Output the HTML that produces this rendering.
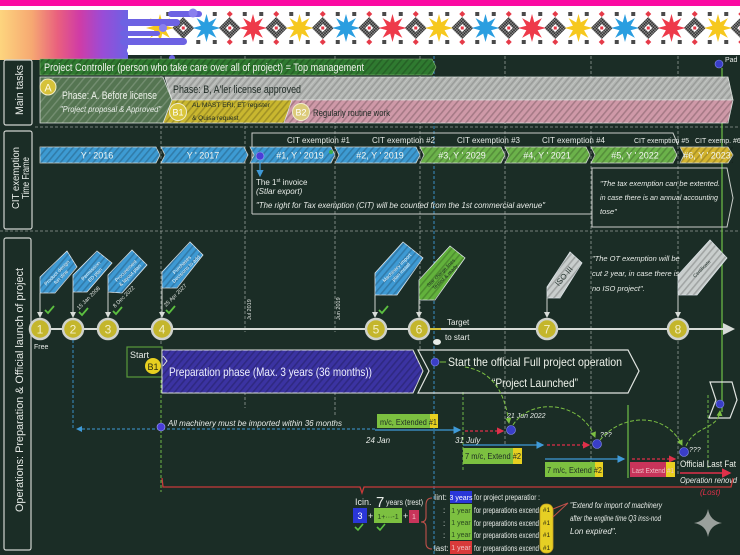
<!DOCTYPE html>
<html><head><meta charset="utf-8"><style>
html,body{margin:0;padding:0;background:#1b2d26;}
svg{display:block;}
text{font-family:"Liberation Sans",sans-serif;}
</style></head><body>
<svg width="740" height="555" viewBox="0 0 740 555" xmlns="http://www.w3.org/2000/svg" xmlns:xlink="http://www.w3.org/1999/xlink">
<defs>
<linearGradient id="hg" x1="0" x2="1" y1="0" y2="0">
<stop offset="0" stop-color="#fdd57e"/>
<stop offset="0.25" stop-color="#f6a872"/>
<stop offset="0.45" stop-color="#e9607e"/>
<stop offset="0.62" stop-color="#d03ca6"/>
<stop offset="0.8" stop-color="#9a4cd6"/>
<stop offset="1" stop-color="#6b62e4"/>
</linearGradient>
<pattern id="h" width="5" height="5" patternUnits="userSpaceOnUse" patternTransform="rotate(40)">
<rect x="0" y="0" width="1.6" height="5" fill="#000" fill-opacity="0.2"/>
</pattern>
<pattern id="hl" width="5" height="5" patternUnits="userSpaceOnUse" patternTransform="rotate(40)">
<rect x="0" y="0" width="1.4" height="5" fill="#000" fill-opacity="0.14"/>
<rect x="2.5" y="0" width="1" height="5" fill="#fff" fill-opacity="0.2"/>
</pattern>
<pattern id="hw" width="6" height="6" patternUnits="userSpaceOnUse" patternTransform="rotate(40)">
<rect x="0" y="0" width="1.4" height="6" fill="#fff" fill-opacity="0.18"/>
</pattern>
<pattern id="ck" width="3" height="3" patternUnits="userSpaceOnUse">
<rect width="3" height="3" fill="#8a8a8a"/>
<rect width="1.5" height="1.5" fill="#2e2e2e"/>
<rect x="1.5" y="1.5" width="1.5" height="1.5" fill="#2e2e2e"/>
</pattern>
<polygon id="st" points="14,0 5.6,2.3 9.9,9.9 2.3,5.6 0,14 -2.3,5.6 -9.9,9.9 -5.6,2.3 -14,0 -5.6,-2.3 -9.9,-9.9 -2.3,-5.6 0,-14 2.3,-5.6 9.9,-9.9 5.6,-2.3"/>
<g id="mo">
<path d="M0,-11 L11,0 L0,11 L-11,0Z" fill="url(#ck)"/>
<path d="M0,-4 L4,0 L0,4 L-4,0Z" fill="#fff"/>
<rect x="-1.5" y="-1.5" width="3" height="3" fill="#e53a48"/>
<path d="M0,-17 L3,-14 L0,-11 L-3,-14Z" fill="#e53a48"/>
<path d="M0,11 L3,14 L0,17 L-3,14Z" fill="#e53a48"/>
<rect x="-17" y="-16" width="4" height="4" fill="#4a4a4a"/>
<rect x="13" y="-16" width="4" height="4" fill="#4a4a4a"/>
<rect x="-17" y="12" width="4" height="4" fill="#4a4a4a"/>
<rect x="13" y="12" width="4" height="4" fill="#4a4a4a"/>
</g>
<marker id="aw" markerWidth="6" markerHeight="6" refX="5" refY="3" orient="auto"><path d="M0,0 L6,3 L0,6Z" fill="#d8dcd8"/></marker>
<marker id="ab" markerWidth="6" markerHeight="6" refX="5" refY="3" orient="auto"><path d="M0,0 L6,3 L0,6Z" fill="#3f9ad8"/></marker>
<marker id="ar" markerWidth="6" markerHeight="6" refX="5" refY="3" orient="auto"><path d="M0,0 L6,3 L0,6Z" fill="#e0304a"/></marker>
<marker id="ag" markerWidth="6" markerHeight="6" refX="5" refY="3" orient="auto"><path d="M0,0 L6,3 L0,6Z" fill="#7cc043"/></marker>
</defs>

<rect x="0" y="0" width="740" height="555" fill="#1b2d26"/>

<!-- header -->
<rect x="0" y="0" width="740" height="6" fill="#fb0aa2"/>
<rect x="0" y="6" width="740" height="49" fill="#ffffff"/>
<g>
<use xlink:href="#mo" transform="translate(183.25,28)"/>
<use xlink:href="#mo" transform="translate(229.75,28)"/>
<use xlink:href="#mo" transform="translate(276.25,28)"/>
<use xlink:href="#mo" transform="translate(322.75,28)"/>
<use xlink:href="#mo" transform="translate(369.25,28)"/>
<use xlink:href="#mo" transform="translate(415.75,28)"/>
<use xlink:href="#mo" transform="translate(462.25,28)"/>
<use xlink:href="#mo" transform="translate(508.75,28)"/>
<use xlink:href="#mo" transform="translate(555.25,28)"/>
<use xlink:href="#mo" transform="translate(601.75,28)"/>
<use xlink:href="#mo" transform="translate(648.25,28)"/>
<use xlink:href="#mo" transform="translate(694.75,28)"/>
<use xlink:href="#mo" transform="translate(741.25,28)"/>
<use xlink:href="#st" transform="translate(160,28)" fill="#f6c81e"/>
<use xlink:href="#st" transform="translate(206.5,28)" fill="#2a9ee0"/>
<use xlink:href="#st" transform="translate(253,28)" fill="#ee3a4a"/>
<use xlink:href="#st" transform="translate(299.5,28)" fill="#f6c81e"/>
<use xlink:href="#st" transform="translate(346,28)" fill="#2a9ee0"/>
<use xlink:href="#st" transform="translate(392.5,28)" fill="#ee3a4a"/>
<use xlink:href="#st" transform="translate(439,28)" fill="#f6c81e"/>
<use xlink:href="#st" transform="translate(485.5,28)" fill="#2a9ee0"/>
<use xlink:href="#st" transform="translate(532,28)" fill="#ee3a4a"/>
<use xlink:href="#st" transform="translate(578.5,28)" fill="#f6c81e"/>
<use xlink:href="#st" transform="translate(625,28)" fill="#2a9ee0"/>
<use xlink:href="#st" transform="translate(671.5,28)" fill="#ee3a4a"/>
<use xlink:href="#st" transform="translate(718,28)" fill="#f6c81e"/>
</g>
<rect x="0" y="10" width="128" height="50" fill="url(#hg)"/>
<rect x="168" y="11" width="34" height="6" rx="3" fill="#6d62e3"/>
<circle cx="193" cy="13" r="4.5" fill="#8a80ee"/>
<rect x="120" y="19" width="60" height="7" rx="3.5" fill="#6d62e3"/>
<circle cx="163" cy="28" r="4" fill="#8a80ee"/>
<rect x="120" y="31" width="40" height="5" rx="2.5" fill="#6d62e3"/>
<rect x="120" y="38" width="67" height="7" rx="3.5" fill="#6d62e3"/>
<rect x="127" y="47" width="48" height="7" rx="3.5" fill="#ffffff"/>
<circle cx="172" cy="58" r="3" fill="#6d62e3"/>

<!-- separators -->
<g stroke="#c8ccc8" stroke-opacity="0.7" stroke-width="0.8" stroke-dasharray="3 2" fill="none">
<line x1="35" y1="127" x2="740" y2="127"/>
<line x1="0" y1="231" x2="740" y2="231"/>
<line x1="161" y1="56" x2="161" y2="345"/>
<line x1="245" y1="56" x2="245" y2="332"/>
<line x1="335" y1="56" x2="335" y2="332"/>
<line x1="420" y1="56" x2="420" y2="350"/>
<line x1="505" y1="56" x2="505" y2="445"/>
<line x1="591" y1="56" x2="591" y2="470"/>
<line x1="678" y1="56" x2="678" y2="476"/>
<line x1="245" y1="392" x2="245" y2="408"/>
<line x1="335" y1="392" x2="335" y2="415"/>
</g>
<line x1="434" y1="56" x2="434" y2="555" stroke="#3f9ad8" stroke-width="0.9" stroke-dasharray="3 2"/>
<g stroke="#6fb848" stroke-width="1" stroke-dasharray="3 2" fill="none">
<line x1="161" y1="380" x2="161" y2="492"/>
<line x1="463" y1="392" x2="463" y2="470"/>
<line x1="708" y1="395" x2="708" y2="470"/>
</g>
<line x1="722" y1="68" x2="722" y2="412" stroke="#6fc048" stroke-width="1.2"/>
<line x1="628" y1="405" x2="628" y2="478" stroke="#6fc048" stroke-width="1.2"/>

<!-- left label boxes -->
<g fill="none" stroke="#d0d4d0" stroke-width="1.2">
<rect x="4" y="60" width="28" height="65" rx="2"/>
<rect x="4" y="131" width="28" height="98" rx="2"/>
<rect x="4" y="238" width="27" height="312" rx="2"/>
</g>
<g fill="#e8ece8">
<text transform="translate(23,90) rotate(-90)" text-anchor="middle" font-size="11" textLength="50" lengthAdjust="spacingAndGlyphs">Main tasks</text>
<text transform="translate(19,178) rotate(-90)" text-anchor="middle" font-size="10" textLength="62" lengthAdjust="spacingAndGlyphs">CIT exemption</text>
<text transform="translate(29,178) rotate(-90)" text-anchor="middle" font-size="10" textLength="42" lengthAdjust="spacingAndGlyphs">Time Frame</text>
<text transform="translate(23,390) rotate(-90)" text-anchor="middle" font-size="11" textLength="244" lengthAdjust="spacingAndGlyphs">Operations: Preparation &amp; Official launch of project</text>
</g>

<!-- main tasks -->
<polygon points="40,59 432,59 436,67 432,75 40,75" fill="#2f7a30" stroke="#8fbf7c" stroke-width="0.6"/>
<polygon points="40,59 432,59 436,67 432,75 40,75" fill="url(#h)"/>
<text x="44" y="71" font-size="11" fill="#eef2ea" textLength="320" lengthAdjust="spacingAndGlyphs">Project Controller (person who take care over all of project) = Top management</text>

<polygon points="165,77 728,77 733,100 172,100" fill="#b2b5b2" stroke="#dfe2df" stroke-width="0.8"/>
<polygon points="165,77 728,77 733,100 172,100" fill="url(#hl)"/>
<polygon points="172,100 292,100 284,123 163,123" fill="#c9b72f" stroke="#dfe2df" stroke-width="0.8"/>
<polygon points="172,100 292,100 284,123 163,123" fill="url(#h)"/>
<polygon points="292,100 733,100 728,123 284,123" fill="#cf99a8" stroke="#dfe2df" stroke-width="0.8"/>
<polygon points="292,100 733,100 728,123 284,123" fill="url(#h)"/>
<polygon points="40,77 163,77 172,100 163,123 40,123" fill="#557552" stroke="#dfe2df" stroke-width="0.8"/>
<polygon points="40,77 163,77 172,100 163,123 40,123" fill="url(#hw)"/>
<circle cx="48" cy="87" r="8" fill="#d6c23a" stroke="#f0ecc8" stroke-width="1"/>
<text x="48" y="91.5" font-size="11" fill="#fffbe0" text-anchor="middle">A</text>
<text x="62" y="99" font-size="11" fill="#eef2ea" textLength="95" lengthAdjust="spacingAndGlyphs">Phase: A. Before license</text>
<text x="60" y="112" font-size="8.5" font-style="italic" fill="#e8ece8" textLength="101" lengthAdjust="spacingAndGlyphs">"Project proposal &amp; Approved"</text>
<text x="173" y="93" font-size="11" fill="#1e2a24" textLength="128" lengthAdjust="spacingAndGlyphs">Phase: B, A'ler license approved</text>
<circle cx="178" cy="112" r="8.5" fill="#d9c53a" stroke="#f0eccc" stroke-width="1"/>
<text x="178" y="115.5" font-size="9" fill="#fff" text-anchor="middle">B1</text>
<text x="192" y="107" font-size="6.5" fill="#1e2a24" textLength="78" lengthAdjust="spacingAndGlyphs">AL MAST ERI, ET register</text>
<text x="192" y="120" font-size="6.5" fill="#1e2a24">&amp; Quisa request</text>
<circle cx="301" cy="112" r="8.5" fill="#dccb7a" stroke="#f0eccc" stroke-width="1"/>
<text x="301" y="115.5" font-size="9" fill="#fff" text-anchor="middle">B2</text>
<text x="313" y="116" font-size="9" fill="#1e2a24" textLength="77" lengthAdjust="spacingAndGlyphs">Regularly routine work</text>

<circle cx="719" cy="64" r="4" fill="#3a3ec8" stroke="#8890f0" stroke-width="0.6"/>
<text x="725" y="62" font-size="7" fill="#e8ece8">Pad</text>

<!-- CIT timeframe -->
<polyline points="252,214 252,133 673,133 678,145" fill="none" stroke="#c8ccc8" stroke-width="1"/>
<line x1="252" y1="214" x2="592" y2="214" stroke="#c8ccc8" stroke-width="1"/>
<polygon points="592,168 727,168 733,198 727,227 592,227" fill="none" stroke="#c8ccc8" stroke-width="1"/>
<g stroke="#d8dcd8" stroke-width="0.8">
<polygon points="40,147 156,147 160,155 156,163 40,163" fill="#3d9bd3"/>
<polygon points="161,147 244,147 248,155 244,163 161,163 165,155" fill="#3d9bd3"/>
<polygon points="250,147 331,147 335,155 331,163 250,163 254,155" fill="#3d9bd3"/>
<polygon points="335,147 416,147 420,155 416,163 335,163 339,155" fill="#3d9bd3"/>
<polygon points="420,147 501,147 505,155 501,163 420,163 424,155" fill="#6bb24a"/>
<polygon points="505,147 586,147 590,155 586,163 505,163 509,155" fill="#6bb24a"/>
<polygon points="591,147 673,147 677,155 673,163 591,163 595,155" fill="#6bb24a"/>
<polygon points="680,147 728,147 733,155 728,163 680,163 684,155" fill="#d4b530"/>
</g>
<rect x="40" y="147" width="693" height="16" fill="url(#h)"/>
<g font-size="9" fill="#f2f5f2" text-anchor="middle">
<text x="97" y="158.5">Y ' 2016</text>
<text x="203" y="158.5">Y ' 2017</text>
<text x="300" y="158.5">#1, Y ' 2019</text>
<text x="380" y="158.5">#2, Y ' 2019</text>
<text x="462" y="158.5">#3, Y ' 2029</text>
<text x="547" y="158.5">#4, Y ' 2021</text>
<text x="635" y="158.5">#5, Y ' 2022</text>
<text x="707" y="158.5">#6, Y ' 2023</text>
</g>
<g font-size="8" fill="#e8ece8">
<text x="287" y="143">CIT exemption  #1</text>
<text x="372" y="143">CIT exemption  #2</text>
<text x="457" y="143">CIT exemption  #3</text>
<text x="542" y="143">CIT exemption  #4</text>
<text x="634" y="143" font-size="7">CIT exemption #5</text>
<text x="695" y="143" font-size="7">CIT exemp. #6</text>
</g>
<circle cx="260" cy="156" r="4" fill="#4a3ed8" stroke="#a0a8f0" stroke-width="0.6"/>
<circle cx="331" cy="152" r="2" fill="#3cb050"/>
<line x1="260" y1="161" x2="260" y2="176" stroke="#3f9ad8" stroke-width="1.2" marker-end="url(#ab)"/>
<text x="256" y="185" font-size="8" fill="#e8ece8">The 1<tspan font-size="5" dy="-3">st</tspan><tspan dy="3"> invoice</tspan></text>
<text x="256" y="194" font-size="8" font-style="italic" fill="#e8ece8">(Stlar export)</text>
<text x="256" y="208" font-size="8.5" font-style="italic" fill="#e8ece8" textLength="289" lengthAdjust="spacingAndGlyphs">"The right for Tax exemption (CIT) will be counted from the 1st commercial avenue"</text>
<g font-size="7.5" font-style="italic" fill="#e8ece8">
<text x="600" y="186" textLength="120" lengthAdjust="spacingAndGlyphs">"The tax exemption can be extented.</text>
<text x="600" y="200" textLength="118" lengthAdjust="spacingAndGlyphs">in case there is an annual accounting</text>
<text x="600" y="214">tose"</text>
</g>

<!-- operations timeline -->
<line x1="35" y1="329" x2="733" y2="329" stroke="#d8dcd8" stroke-width="2" marker-end="url(#aw)"/>
<g stroke="#dfe6ea" stroke-width="0.8">
<polygon points="40,293 40,277 67,251 77,267 55,293" fill="#3e9ad4"/>
<polygon points="73,292 73,275 97,251 112,263 87,292" fill="#3e9ad4"/>
<polygon points="108,292 108,275 132,250 147,265 122,293" fill="#3e9ad4"/>
<polygon points="162,288 162,272 190,242 203,255 177,288" fill="#3e9ad4"/>
<polygon points="375,295 375,273 403,242 423,258 397,295" fill="#3e9ad4"/>
<polygon points="419,300 419,280 450,246 465,258 435,300" fill="#62b23c"/>
<polygon points="547,298 547,287 570,252 582,263 560,298" fill="#c9cecd"/>
<polygon points="678,295 678,275 710,240 727,258 697,295" fill="#c9cecd"/>
</g>
<g fill="url(#h)">
<polygon points="40,293 40,277 67,251 77,267 55,293"/>
<polygon points="73,292 73,275 97,251 112,263 87,292"/>
<polygon points="108,292 108,275 132,250 147,265 122,293"/>
<polygon points="162,288 162,272 190,242 203,255 177,288"/>
<polygon points="375,295 375,273 403,242 423,258 397,295"/>
<polygon points="419,300 419,280 450,246 465,258 435,300"/>
<polygon points="547,298 547,287 570,252 582,263 560,298"/>
<polygon points="678,295 678,275 710,240 727,258 697,295"/>
</g>
<g font-size="5" fill="#f0f4f6" text-anchor="middle">
<text transform="translate(58,274) rotate(-45)">Product design<tspan x="0" dy="6">fun dine</tspan></text>
<text transform="translate(92,272) rotate(-45)">Permission<tspan x="0" dy="6">ED plan</tspan></text>
<text transform="translate(127,272) rotate(-45)">Procurement<tspan x="0" dy="6">&amp; layout plan</tspan></text>
<text transform="translate(183,266) rotate(-45)">Purchases<tspan x="0" dy="6">Decisions to add</tspan></text>
<text transform="translate(398,269) rotate(-45)">Machinery import<tspan x="0" dy="6">plan install</tspan></text>
<text transform="translate(442,274) rotate(-45)" fill="#1e2a24">Star charge lines<tspan x="0" dy="6">Tested &amp; ready</tspan></text>
<text transform="translate(566,278) rotate(-50)" font-size="8" fill="#2a3a34">ISO III</text>
<text transform="translate(703,270) rotate(-45)" fill="#2a3a34">Certificate</text>
</g>
<g stroke="#cfd3cf" stroke-width="1" marker-end="url(#aw)">
<line x1="40" y1="293" x2="40" y2="317"/>
<line x1="73" y1="292" x2="73" y2="317"/>
<line x1="108" y1="292" x2="108" y2="317"/>
<line x1="162" y1="288" x2="162" y2="317"/>
<line x1="375" y1="295" x2="375" y2="317"/>
<line x1="419" y1="300" x2="419" y2="317"/>
<line x1="547" y1="298" x2="547" y2="317"/>
<line x1="678" y1="295" x2="678" y2="317"/>
</g>
<g fill="none" stroke="#5cc040" stroke-width="1.8">
<path d="M45,310 l3,3 l6,-7"/>
<path d="M79,312 l3,3 l6,-7"/>
<path d="M113,311 l3,3 l6,-7"/>
<path d="M166,310 l3,3 l6,-7"/>
<path d="M379,310 l3,3 l6,-7"/>
</g>
<g font-size="5.5" fill="#e0e4e0">
<text transform="translate(79,310) rotate(-45)">15 Jan 2008</text>
<text transform="translate(115,308) rotate(-45)">8 Dec 2022</text>
<text transform="translate(166,307) rotate(-45)">25 Apr 2027</text>
<text transform="translate(251,320) rotate(-90)">Jul 2019</text>
<text transform="translate(340,320) rotate(-90)">Jun 2019</text>
</g>
<g fill="#c4b62c" stroke="#cfd2cc" stroke-width="2.5">
<circle cx="40" cy="329" r="10"/>
<circle cx="73" cy="329" r="10"/>
<circle cx="108" cy="329" r="10"/>
<circle cx="162" cy="329" r="10"/>
<circle cx="376" cy="329" r="10"/>
<circle cx="419" cy="329" r="10"/>
<circle cx="547" cy="329" r="10"/>
<circle cx="678" cy="329" r="10"/>
</g>
<g font-size="12" fill="#f4f0c8" text-anchor="middle">
<text x="40" y="333.5">1</text>
<text x="73" y="333.5">2</text>
<text x="108" y="333.5">3</text>
<text x="162" y="333.5">4</text>
<text x="376" y="333.5">5</text>
<text x="419" y="333.5">6</text>
<text x="547" y="333.5">7</text>
<text x="678" y="333.5">8</text>
</g>
<text x="34" y="349" font-size="7" fill="#e8ece8">Free</text>
<line x1="430" y1="329" x2="441" y2="329" stroke="#d4c23a" stroke-width="2"/>
<ellipse cx="437" cy="342" rx="4" ry="3" fill="#e8ece8"/>
<text x="447" y="325" font-size="8" fill="#e8ece8">Target</text>
<text x="445" y="340" font-size="8" fill="#e8ece8">to start</text>
<g font-size="7.5" font-style="italic" fill="#e8ece8">
<text x="592" y="261">"The OT exemption will be</text>
<text x="592" y="276">cut 2 year, in case there is</text>
<text x="592" y="291">no ISO project".</text>
</g>

<!-- preparation phase -->
<rect x="127" y="347" width="35" height="30" fill="none" stroke="#5a9a3a" stroke-width="1.2"/>
<text x="130" y="358" font-size="9" fill="#e8ece8">Start</text>
<polygon points="162,350 413,350 423,371 413,393 162,393" fill="#3b33a2" stroke="#e0e4e0" stroke-width="1"/>
<polygon points="162,350 413,350 423,371 413,393 162,393" fill="url(#h)"/>
<path d="M163,356 l4,5 l-4,5" fill="none" stroke="#e0e4e0" stroke-width="1"/>
<circle cx="153" cy="366" r="8" fill="#e8d020"/>
<text x="153" y="370" font-size="9" fill="#2a2a10" text-anchor="middle">B1</text>
<text x="169" y="376" font-size="12" fill="#eef0ff" textLength="203" lengthAdjust="spacingAndGlyphs">Preparation phase (Max. 3 years (36 months))</text>
<polygon points="418,350 628,350 639,371 628,393 418,393 429,371" fill="none" stroke="#e0e4e0" stroke-width="1.2"/>
<circle cx="435" cy="362" r="4" fill="#3a3ec8" stroke="#8890f0" stroke-width="0.6"/>
<line x1="440" y1="362" x2="446" y2="362" stroke="#7cc043" stroke-width="1"/>
<text x="448" y="366" font-size="12" fill="#eef2ea" textLength="174" lengthAdjust="spacingAndGlyphs">Start the official Full project operation</text>
<text x="535" y="387" font-size="12" fill="#eef2ea" text-anchor="middle" textLength="86" lengthAdjust="spacingAndGlyphs">“Project Launched”</text>
<polygon points="710,382 732,382 737,400 730,418 709,418 716,400" fill="none" stroke="#e0e4e0" stroke-width="1.2"/>
<circle cx="720" cy="404" r="4" fill="#3a3ec8" stroke="#8890f0" stroke-width="0.6"/>

<!-- machinery -->
<line x1="73" y1="340" x2="73" y2="429" stroke="#3f9ad8" stroke-width="0.9" stroke-dasharray="3 2"/>
<line x1="375" y1="429" x2="77" y2="429" stroke="#3f9ad8" stroke-width="1" stroke-dasharray="3 2" marker-end="url(#ab)"/>
<line x1="375" y1="430" x2="460" y2="430" stroke="#3f9ad8" stroke-width="1.3" marker-end="url(#ab)"/>
<circle cx="161" cy="427" r="4" fill="#4a3ed8" stroke="#a0a8f0" stroke-width="0.6"/>
<text x="168" y="426" font-size="8.5" font-style="italic" fill="#e8ece8" textLength="174" lengthAdjust="spacingAndGlyphs">All machinery must be imported within 36 months</text>
<rect x="377" y="414" width="54" height="14" fill="#7cc040"/>
<rect x="430" y="414" width="8" height="14" fill="#e8d020"/>
<text x="380" y="425" font-size="8.5" fill="#1e2a24" textLength="57" lengthAdjust="spacingAndGlyphs">m/c, Extended #1</text>
<g font-size="8" font-style="italic" fill="#e8ece8">
<text x="366" y="443">24 Jan</text>
<text x="455" y="443">31 July</text>
<text x="507" y="418" font-size="7">21 Jun 2022</text>
<text x="600" y="437" font-size="7">???</text>
<text x="689" y="452" font-size="7">???</text>
</g>
<line x1="465" y1="431" x2="503" y2="431" stroke="#e0304a" stroke-width="1.2" stroke-dasharray="3 2" marker-end="url(#ar)"/>
<circle cx="511" cy="430" r="4.5" fill="#3a3ec8" stroke="#8890f0" stroke-width="0.6"/>

<line x1="463" y1="445" x2="543" y2="445" stroke="#3f9ad8" stroke-width="1.3" marker-end="url(#ab)"/>
<line x1="547" y1="445" x2="589" y2="445" stroke="#e0304a" stroke-width="1.2" stroke-dasharray="3 2" marker-end="url(#ar)"/>
<circle cx="597" cy="444" r="4.5" fill="#3a3ec8" stroke="#8890f0" stroke-width="0.6"/>
<rect x="463" y="448" width="51" height="16" fill="#7cc040"/>
<rect x="513" y="448" width="9" height="16" fill="#e8d020"/>
<text x="465" y="459" font-size="8.5" fill="#1e2a24" textLength="56" lengthAdjust="spacingAndGlyphs">7 m/c, Extend #2</text>

<line x1="545" y1="459" x2="624" y2="459" stroke="#3f9ad8" stroke-width="1.3" marker-end="url(#ab)"/>
<line x1="632" y1="459" x2="675" y2="459" stroke="#e0304a" stroke-width="1.2" stroke-dasharray="3 2" marker-end="url(#ar)"/>
<rect x="545" y="462" width="51" height="15" fill="#7cc040"/>
<rect x="595" y="462" width="8" height="15" fill="#e8d020"/>
<text x="547" y="473" font-size="8.5" fill="#1e2a24" textLength="55" lengthAdjust="spacingAndGlyphs">7 m/c, Extend #2</text>
<rect x="630" y="462" width="37" height="15" fill="#c8345a"/>
<rect x="666" y="462" width="9" height="15" fill="#e8d020"/>
<text x="632" y="473" font-size="7.5" fill="#f0c0c8" textLength="42" lengthAdjust="spacingAndGlyphs">Last Extend #1</text>
<circle cx="684" cy="452" r="4.5" fill="#3a3ec8" stroke="#8890f0" stroke-width="0.6"/>
<text x="680" y="467" font-size="9" fill="#eef2ea" textLength="56" lengthAdjust="spacingAndGlyphs">Official Last Fat</text>
<line x1="680" y1="473" x2="730" y2="473" stroke="#e0304a" stroke-width="1.6" marker-end="url(#ar)"/>
<text x="680" y="483" font-size="8" font-style="italic" fill="#e8ece8" textLength="57" lengthAdjust="spacingAndGlyphs">Operation renovd</text>
<text x="700" y="495" font-size="8" font-style="italic" fill="#e0304a">(Lost)</text>

<!-- curves -->
<g fill="none" stroke="#7cc043" stroke-width="1" stroke-dasharray="4 2" marker-end="url(#ag)">
<path d="M465,367 C495,372 505,395 509,423"/>
<path d="M513,425 C530,398 580,400 595,437"/>
<path d="M600,440 C620,415 665,410 682,445"/>
<path d="M686,446 C695,425 718,430 720,411"/>
</g>

<!-- red bracket -->
<path d="M162,478 L163,487 L360,487 L362,493 L364,487 L731,487 L733,478" fill="none" stroke="#c83a3a" stroke-width="1.3"/>

<!-- formula -->
<text x="355" y="505" font-size="9" fill="#e8ece8">Icin.</text>
<text x="376" y="507" font-size="15" fill="#e8ece8">7</text>
<text x="386" y="505" font-size="8" fill="#e8ece8" textLength="37" lengthAdjust="spacingAndGlyphs">years (trest)</text>
<rect x="353" y="508" width="14" height="15" fill="#2a36d8"/>
<text x="360" y="519" font-size="9" fill="#fff" text-anchor="middle">3</text>
<text x="368" y="519" font-size="9" fill="#e8ece8">+</text>
<rect x="374" y="508" width="28" height="15" fill="#7cc040"/>
<text x="388" y="519" font-size="7" fill="#2a4a20" text-anchor="middle">1+···-1</text>
<text x="403" y="519" font-size="9" fill="#e8ece8">+</text>
<rect x="409" y="510" width="10" height="13" fill="#c8345a"/>
<text x="414" y="519" font-size="7" fill="#f0c0c8" text-anchor="middle">1</text>
<g fill="none" stroke="#5cc040" stroke-width="1.6">
<path d="M355,527 l3,3 l5,-6"/>
<path d="M377,527 l3,3 l5,-6"/>
</g>
<path d="M432,498 Q426,498 426,505 L426,517 Q426,522 421,522 Q426,522 426,527 L426,543 Q426,549 432,549" fill="none" stroke="#c0504a" stroke-width="1.1"/>
<g font-size="8" fill="#e8ece8">
<text x="434" y="500">Iint:</text>
<text x="443" y="513">:</text>
<text x="443" y="526">:</text>
<text x="443" y="538">:</text>
<text x="434" y="551">last:</text>
</g>
<rect x="450" y="491" width="22" height="12" fill="#2a36d8"/>
<rect x="450" y="504" width="22" height="12" fill="#7cc040"/>
<rect x="450" y="516" width="22" height="12" fill="#7cc040"/>
<rect x="450" y="528" width="22" height="12" fill="#7cc040"/>
<rect x="450" y="541" width="22" height="13" fill="#d83a3a"/>
<g font-size="7" text-anchor="middle">
<text x="461" y="500" fill="#fff">3 years</text>
<text x="461" y="513" fill="#2a4a20">1 year</text>
<text x="461" y="525" fill="#2a4a20">1 year</text>
<text x="461" y="537" fill="#2a4a20">1 year</text>
<text x="461" y="550" fill="#f0c0c0">1 year</text>
</g>
<g font-size="8" fill="#e8ece8">
<text x="474" y="500" textLength="66" lengthAdjust="spacingAndGlyphs">for project preparatior :</text>
<text x="474" y="513" textLength="65" lengthAdjust="spacingAndGlyphs">for preparations excend</text>
<text x="474" y="526" textLength="65" lengthAdjust="spacingAndGlyphs">for preparations excend</text>
<text x="474" y="538" textLength="65" lengthAdjust="spacingAndGlyphs">for preparations excend</text>
<text x="474" y="551" textLength="65" lengthAdjust="spacingAndGlyphs">for preparations excend</text>
</g>
<rect x="540" y="504" width="13" height="49" rx="6" fill="#e6cf24" stroke="#c8a020" stroke-width="0.8"/>
<g font-size="6.5" fill="#2a2a10" text-anchor="middle">
<text x="546.5" y="512">#1</text>
<text x="546.5" y="525">#1</text>
<text x="546.5" y="537">#1</text>
<text x="546.5" y="550">#1</text>
</g>
<polyline points="553,509 568,503 553,517" fill="none" stroke="#c0504a" stroke-width="1"/>
<g font-size="8" font-style="italic" fill="#e8ece8">
<text x="570" y="508" textLength="92" lengthAdjust="spacingAndGlyphs">"Extend for import of machinery</text>
<text x="570" y="521" textLength="91" lengthAdjust="spacingAndGlyphs">after the engline time Q3 inss-nod</text>
<text x="570" y="534">Lon expired".</text>
</g>

<path d="M708,509 Q710,521 722,523 Q710,525 708,537 Q706,525 694,523 Q706,521 708,509Z" fill="#9aa09c"/>
</svg>
</body></html>
